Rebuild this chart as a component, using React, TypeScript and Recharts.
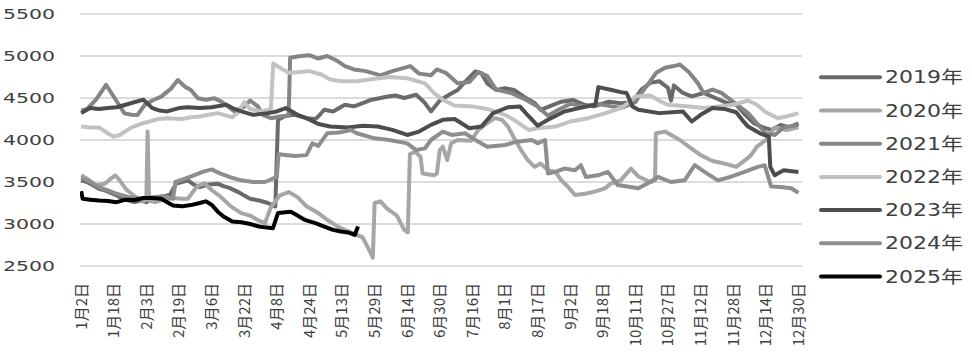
import React from "react";
import { LineChart, Line, XAxis, YAxis, CartesianGrid, Legend } from "recharts";

// x = trading day index from Jan 2 (one axis label every 11 days)
const tickLabels = [
  "1月2日", "1月18日", "2月3日", "2月19日", "3月6日", "3月22日", "4月8日", "4月24日",
  "5月13日", "5月29日", "6月14日", "6月30日", "7月16日", "8月1日", "8月17日", "9月2日",
  "9月18日", "10月11日", "10月27日", "11月12日", "11月28日", "12月14日", "12月30日",
];
const tickDays = tickLabels.map((_, i) => i * 11);
const yTicks = [2500, 3000, 3500, 4000, 4500, 5000, 5500];

const y2019: [number, number][] = [
  [0, 3520], [2, 3500], [4, 3460], [6, 3420], [8, 3400], [10, 3370], [12, 3340], [14, 3300],
  [16, 3280], [18, 3260], [20, 3280], [22, 3260], [24, 3300], [26, 3320], [28, 3330], [30, 3350],
  [32, 3480], [34, 3500], [36, 3520], [38, 3470], [40, 3440], [43, 3470], [46, 3480], [48, 3450],
  [50, 3430], [53, 3380], [55, 3340], [57, 3300], [60, 3280], [63, 3250], [65.5, 3210], [66.4, 4240],
  [69, 4290], [72, 4300], [76, 4260], [79, 4250], [80, 4280], [82, 4360], [85, 4340], [89, 4420],
  [92, 4400], [95, 4440], [98, 4480], [101, 4500], [103, 4515], [106, 4530], [109, 4500], [113, 4540],
  [116, 4440], [118, 4340], [121, 4470], [124, 4535], [127, 4595], [130, 4710], [133, 4815], [135, 4795],
  [137, 4675], [140, 4595], [143, 4615], [146, 4595], [150, 4500], [153, 4440], [155, 4360], [158, 4400],
  [162, 4456], [166, 4476], [170, 4417], [173, 4400], [178, 4456], [182, 4437], [186, 4450], [189, 4600],
  [192, 4680], [195, 4700], [198, 4620], [199, 4470], [200, 4650], [203, 4560], [206, 4520], [210, 4560],
  [214, 4500], [218, 4440], [221, 4420], [224, 4300], [227, 4200], [230, 4150], [233, 4120], [236, 4180],
  [239, 4150], [242, 4200],
];

const y2020: [number, number][] = [
  [0, 3580], [2, 3540], [5, 3460], [8, 3480], [10, 3540], [11.5, 3580], [13, 3520], [15, 3420],
  [18, 3330], [21, 3270], [22, 3290], [22.4, 4100], [22.9, 3280], [25, 3260], [28, 3290], [31, 3310],
  [34, 3300], [36, 3300], [39, 3445], [41.5, 3485], [44, 3405], [47, 3325], [50.5, 3210], [54, 3130],
  [57, 3100], [60, 3040], [62, 3010], [64, 3200], [67, 3340], [70, 3380], [73, 3320], [76, 3210],
  [80, 3130], [83, 3050], [87, 2960], [91, 2900], [95, 2840], [97, 2700], [98.4, 2600], [99, 3250],
  [101, 3270], [103, 3190], [106.5, 3100], [109, 2930], [110.2, 2900], [110.9, 3830], [112.6, 3860],
  [114.5, 3800], [115.2, 3600], [119, 3580], [120, 3600], [121, 3880], [122, 3920], [123.5, 3760],
  [124.8, 3960], [127, 4000], [131.5, 3990], [134, 4120], [137, 4200], [139.6, 4260], [142, 4240],
  [144, 4160], [146.4, 4000], [148.4, 3880], [150.7, 3760], [153, 3680], [155, 3720], [157.5, 3640],
  [160, 3620], [162, 3520], [164.3, 3440], [166.6, 3345], [170, 3360], [173.3, 3385], [176.7, 3425],
  [178.7, 3480], [182, 3520], [185.5, 3660], [188, 3565], [192, 3500], [193.6, 3520], [193.9, 4080],
  [197, 4100], [202, 4000], [205, 3920], [209, 3820], [213, 3750], [217, 3720], [221, 3680],
  [224, 3760], [226, 3820], [228, 3920], [231, 4000], [234, 4150], [238, 4120], [242, 4150],
];

const y2021: [number, number][] = [
  [0, 4350], [2, 4370], [5, 4480], [8.4, 4655], [10, 4570], [12.4, 4437], [14.6, 4317], [17, 4300],
  [19, 4298], [21.4, 4417], [24, 4470], [27, 4516], [30.4, 4615], [32.6, 4714], [35, 4635], [37, 4595],
  [39.4, 4496], [42, 4480], [45, 4496], [47.3, 4457], [49.5, 4400], [51.8, 4338], [55, 4397], [57, 4470],
  [59.6, 4400], [61.3, 4300], [64, 4260], [67, 4280], [70, 4290], [70.5, 4980], [74, 5000], [77, 5010],
  [80, 4970], [83, 5000], [86, 4950], [89, 4880], [92, 4840], [96, 4820], [101, 4770], [105, 4820],
  [111, 4880], [114, 4790], [118, 4770], [120, 4840], [123, 4800], [127, 4675], [131, 4690], [134, 4810],
  [137, 4760], [140, 4600], [145, 4560], [150, 4480], [154, 4400], [157.5, 4290], [161, 4360], [165, 4430],
  [170, 4400], [174, 4430], [179, 4400], [182, 4380], [185, 4420], [187, 4450], [189, 4560], [192, 4700],
  [194, 4800], [197, 4860], [200, 4880], [202, 4900], [205, 4810], [208, 4680], [210, 4560], [213, 4600],
  [216, 4560], [219, 4480], [222, 4400], [225, 4320], [228, 4200], [231, 4080], [234, 4060], [237, 4150],
  [242, 4180],
];

const y2022: [number, number][] = [
  [0, 4160], [3, 4150], [6, 4150], [9, 4080], [11, 4040], [13, 4060], [17, 4150], [20, 4190],
  [23, 4220], [26, 4250], [29, 4260], [34, 4250], [37, 4270], [40, 4280], [43, 4300], [46, 4320],
  [49, 4290], [51, 4270], [53, 4330], [55, 4450], [57, 4370], [61, 4340], [64, 4370], [64.8, 4910],
  [68, 4840], [70, 4800], [74, 4810], [77, 4820], [81, 4780], [84, 4720], [88, 4700], [93, 4700],
  [99, 4730], [104, 4750], [110, 4735], [116, 4675], [119, 4560], [122, 4480], [126, 4410], [132, 4400],
  [137, 4370], [143, 4300], [146, 4240], [151, 4120], [154, 4140], [160, 4160], [165, 4220], [171, 4260],
  [177, 4320], [182, 4380], [185, 4450], [187, 4520], [192, 4530], [196, 4450], [198, 4420], [205, 4400],
  [210, 4380], [215, 4400], [220, 4420], [225, 4470], [228, 4420], [231, 4330], [235, 4260], [238, 4280],
  [242, 4320],
];

const y2023: [number, number][] = [
  [0, 4320], [3, 4380], [6, 4370], [9, 4380], [12, 4390], [15, 4420], [17, 4440], [21, 4480],
  [24, 4380], [26.5, 4350], [29, 4340], [33, 4380], [36, 4390], [40, 4380], [44, 4390], [49, 4420],
  [51, 4380], [54, 4340], [58, 4300], [63, 4320], [66, 4340], [69, 4380], [73, 4300], [76, 4260],
  [80, 4190], [84, 4160], [90, 4150], [95, 4170], [100, 4160], [105, 4120], [110, 4060], [114, 4100],
  [118, 4180], [122, 4240], [126, 4250], [131, 4140], [135, 4160], [139, 4320], [144, 4390], [148, 4400],
  [150, 4320], [154, 4170], [157.5, 4240], [163, 4340], [168, 4380], [172, 4410], [173.5, 4420],
  [174.5, 4630], [179, 4595], [182, 4570], [184, 4560], [186, 4400], [188, 4360], [195, 4320],
  [203, 4340], [206, 4220], [209, 4300], [213, 4380], [217, 4370], [221, 4330], [223, 4240], [225, 4160],
  [229, 4080], [232, 4040], [232.5, 3680], [234, 3580], [237, 3640], [242, 3620],
];

const y2024: [number, number][] = [
  [0, 3550], [3, 3500], [6, 3440], [9, 3400], [12, 3360], [16, 3320], [20, 3300], [24, 3320],
  [28, 3330], [31, 3300], [31.8, 3500], [35, 3540], [38, 3580], [41, 3620], [44, 3650], [47, 3600],
  [50, 3560], [54, 3520], [58, 3500], [62, 3500], [64, 3530], [66, 3560], [66.6, 3830], [72, 3810],
  [76, 3820], [78, 3960], [80, 3930], [83, 4080], [87, 4090], [91, 4120], [93, 4080], [99, 4020],
  [104, 4000], [110, 3960], [113, 3880], [116, 3900], [118, 4000], [122, 4100], [125, 4060],
  [129.5, 4080], [133, 4000], [137, 3920], [143, 3940], [147, 3980], [152, 4000], [154, 3960],
  [156.5, 4000], [157.5, 3600], [160, 3620], [163, 3660], [166.6, 3640], [168.6, 3700], [170.3, 3560],
  [174.3, 3580], [177.7, 3620], [181, 3465], [188, 3425], [192, 3500], [194.6, 3560], [199, 3500],
  [203.6, 3520], [207, 3700], [210.3, 3620], [214.8, 3520], [219, 3560], [223.8, 3620], [228.3, 3680],
  [230.6, 3700], [232.8, 3445], [236, 3440], [239.6, 3425], [242, 3370],
];

const y2025: [number, number][] = [
  [0, 3390], [0.5, 3300], [3, 3290], [6, 3280], [9, 3275], [12, 3260], [15, 3290], [18, 3285],
  [21, 3310], [24, 3310], [27, 3300], [29, 3260], [31, 3220], [34, 3210], [37, 3225], [40, 3250],
  [42, 3270], [44, 3230], [46, 3150], [48, 3090], [51, 3030], [54, 3020], [57, 3000], [60, 2970],
  [62, 2960], [64.7, 2950], [66.4, 3130], [70.7, 3145], [73, 3100], [75.4, 3050], [79, 3010],
  [82, 2970], [85, 2930], [87.6, 2910], [90, 2900], [92.3, 2870], [93.4, 2970],
];

const series = [
  { name: "2019年", color: "#6a6a6a", points: y2019 },
  { name: "2020年", color: "#a6a6a6", points: y2020 },
  { name: "2021年", color: "#858585", points: y2021 },
  { name: "2022年", color: "#c2c2c2", points: y2022 },
  { name: "2023年", color: "#4d4d4d", points: y2023 },
  { name: "2024年", color: "#8e8e8e", points: y2024 },
  { name: "2025年", color: "#000000", points: y2025 },
];

const XTick = ({ x, y, payload }: any) => (
  <text
    x={x}
    y={y}
    transform={`rotate(-90, ${x}, ${y})`}
    textAnchor="end"
    dy="0.36em"
    fontSize={15}
    fill="#404040"
    fontFamily="'Noto Sans CJK SC', sans-serif"
  >
    {tickLabels[Math.round(payload.value / 11)]}
  </text>
);

const YTick = ({ x, y, payload }: any) => (
  <text
    x={x - 52}
    y={y}
    dy="0.36em"
    fontSize={14}
    fill="#404040"
    fontFamily="'DejaVu Sans', sans-serif"
    textLength={52}
    lengthAdjust="spacingAndGlyphs"
  >
    {payload.value}
  </text>
);

const LegendBox = () => (
  <svg width={157} height={240}>
    {series.map((s, i) => (
      <g key={s.name}>
        <line x1={6} x2={65} y1={17.3 + i * 33.2} y2={17.3 + i * 33.2} stroke={s.color} strokeWidth={4} strokeLinecap="round" />
        <text
          x={70}
          y={17.3 + i * 33.2}
          dy="0.36em"
          fontSize={17}
          fill="#404040"
          fontFamily="'DejaVu Sans', 'Noto Sans CJK SC', sans-serif"
          textLength={78}
          lengthAdjust="spacingAndGlyphs"
        >
          {s.name}
        </text>
      </g>
    ))}
  </svg>
);

export default function App() {
  return (
    <div style={{ position: "absolute", left: 0, top: 0, background: "#fff" }}>
      <LineChart width={972} height={356} margin={{ top: 14, right: 170, bottom: 0, left: 0 }}>
        <CartesianGrid vertical={false} stroke="#d0d0d0" strokeWidth={1.3} />
        <XAxis
          type="number"
          dataKey="day"
          domain={[-0.4, 243.2]}
          ticks={tickDays}
          interval={0}
          tick={<XTick />}
          tickLine={false}
          axisLine={false}
          tickSize={0}
          tickMargin={17}
          height={90}
          allowDataOverflow
        />
        <YAxis
          type="number"
          domain={[2500, 5500]}
          ticks={yTicks}
          interval={0}
          tick={<YTick />}
          tickLine={false}
          axisLine={false}
          tickSize={0}
          tickMargin={25}
          width={80}
        />
        {series.map((s) => (
          <Line
            key={s.name}
            name={s.name}
            data={s.points.map(([day, v]) => ({ day, v }))}
            dataKey="v"
            type="linear"
            stroke={s.color}
            strokeWidth={4}
            strokeLinejoin="round"
            dot={false}
            activeDot={false}
            isAnimationActive={false}
          />
        ))}
        <Legend
          layout="vertical"
          align="center"
          verticalAlign="middle"
          wrapperStyle={{ left: 815, top: 60, width: 157, height: 240 }}
          content={LegendBox}
        />
      </LineChart>
    </div>
  );
}
